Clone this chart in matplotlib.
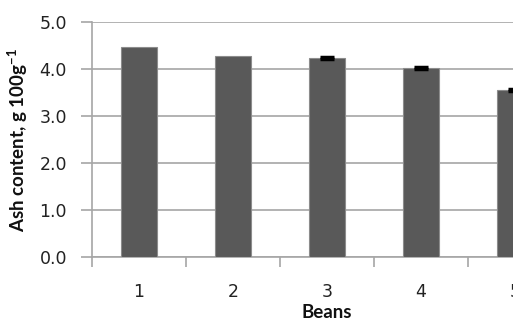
import numpy as np
import matplotlib.pyplot as plt

beans = [1, 2, 3, 4, 5]
ash = [4.47, 4.28, 4.23, 4.03, 3.56]
err = [0.0, 0.0, 0.02, 0.02, 0.02]

fig = plt.figure(figsize=(5.13, 3.2), dpi=100)
# the original is cropped on the right, so the axes run past the figure edge
ax = fig.add_axes([92/513, 63/320, 470/513, 235/320])

x = np.arange(len(beans)) + 1
ax.bar(x, ash, width=0.39, color='#595959', edgecolor='#8c8c8c', linewidth=0.8, zorder=3)
# only draw the bars that have a visible error
e = np.array(err)
m = e > 0
ax.errorbar(x[m], np.array(ash)[m], yerr=e[m], fmt='none', ecolor='black',
            elinewidth=2, capsize=5, capthick=2.5, zorder=4)

ax.set_xlim(0.5, 5.5)
ax.set_ylim(0, 5.0)
ax.set_yticks(np.arange(0, 5.01, 1.0))
ax.set_yticklabels([f'{v:.1f}' for v in np.arange(0, 5.01, 1.0)], fontsize=12.5, color='#222222')
ax.yaxis.grid(True, color='#a6a6a6', linewidth=1.2, zorder=0)

# category boundaries carry the tick marks, labels sit at the centres
ax.set_xticks(np.arange(0.5, 5.6, 1.0))
ax.set_xticklabels([])
ax.set_xticks(x, minor=True)
ax.set_xticklabels([str(b) for b in beans], minor=True, fontsize=12.5, color='#222222')
ax.tick_params(axis='x', which='major', length=7, color='#a6a6a6', width=1.2)
ax.tick_params(axis='x', which='minor', length=0, pad=19)
ax.tick_params(axis='y', length=8, color='#a6a6a6', width=1.2, pad=10)

for s in ['top', 'right']:
    ax.spines[s].set_visible(False)
for s in ['left', 'bottom']:
    ax.spines[s].set_color('#a6a6a6')
    ax.spines[s].set_linewidth(1.2)

fig.text(327/513, 1 - 312/320, 'Beans', family='Lato', fontweight='bold',
         fontsize=13.5, ha='center', va='center', color='#111111')
fig.text(18/513, 1 - 140/320, 'Ash content, g 100g$^{\\mathregular{-1}}$', family='Lato',
         fontweight='bold', fontsize=13.5, rotation=90, ha='center', va='center',
         color='#111111')

fig.savefig('out.png', dpi=100)
